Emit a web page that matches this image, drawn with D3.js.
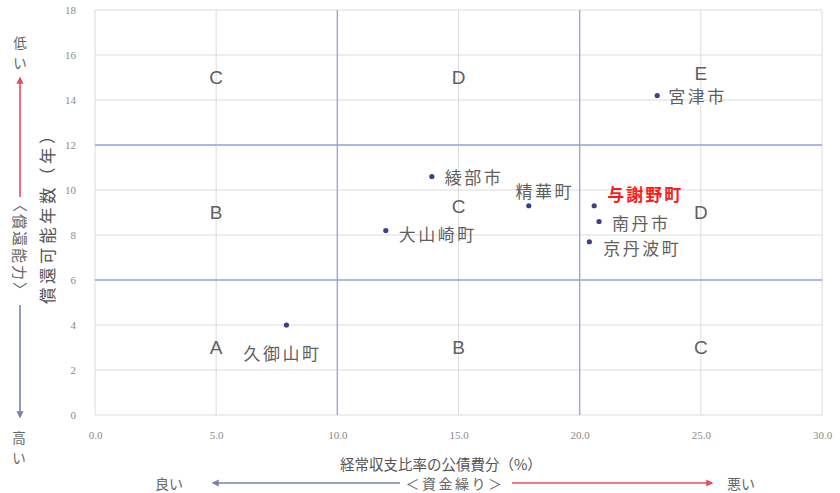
<!DOCTYPE html>
<html>
<head>
<meta charset="utf-8">
<script src="https://cdn.jsdelivr.net/npm/d3@7"></script>
<style>
  body { margin: 0; background: #fff; }
  svg { display: block; font-family: "Noto Sans CJK JP", "Noto Sans", sans-serif; }
</style>
</head>
<body>
<svg id="chart" width="840" height="493"></svg>
<script>
// Municipalities: debt-service share of ordinary balance (%) vs years to repay debt
const names  = ["宮津市", "綾部市", "精華町", "与謝野町", "南丹市", "京丹波町", "大山崎町", "久御山町"];
const xVals  = [23.2, 13.9, 17.9, 20.6, 20.8, 20.4, 12.0, 7.9];
const yVals  = [14.2, 10.6, 9.3, 9.3, 8.6, 7.7, 8.2, 4.0];
const highlight = ["与謝野町"];

// Quadrant grades
const zoneLabels = ["C", "D", "E", "B", "C", "D", "A", "B", "C"];
const zoneX      = [5, 15, 25, 5, 15, 25, 5, 15, 25];
const zoneY      = [15, 15, 15.2, 9, 9.25, 9, 3, 3, 3];

const xTicks = [0, 5, 10, 15, 20, 25, 30];
const yTicks = [0, 2, 4, 6, 8, 10, 12, 14, 16, 18];
const xDividers = [10, 20];
const yDividers = [6, 12];

const svg = d3.select("#chart");
const x = d3.scaleLinear().domain([0, 30]).range([95, 822]);
const y = d3.scaleLinear().domain([0, 18]).range([415, 10]);

// grid
svg.append("g").selectAll("line").data(xTicks).join("line")
  .attr("x1", d => x(d)).attr("x2", d => x(d))
  .attr("y1", y(0)).attr("y2", y(18))
  .attr("stroke", "#dcdcdc").attr("stroke-width", 1);
svg.append("g").selectAll("line").data(yTicks).join("line")
  .attr("x1", x(0)).attr("x2", x(30))
  .attr("y1", d => y(d)).attr("y2", d => y(d))
  .attr("stroke", "#dcdcdc").attr("stroke-width", 1);

// quadrant dividers
svg.append("g").selectAll("line").data(xDividers).join("line")
  .attr("x1", d => x(d)).attr("x2", d => x(d))
  .attr("y1", y(0)).attr("y2", y(18))
  .attr("stroke", "#9aa5d6").attr("stroke-width", 1.3);
svg.append("g").selectAll("line").data(yDividers).join("line")
  .attr("x1", x(0)).attr("x2", x(30))
  .attr("y1", d => y(d)).attr("y2", d => y(d))
  .attr("stroke", "#9aa5d6").attr("stroke-width", 1.3);

// axes (labels only)
const xAxis = svg.append("g").attr("transform", `translate(0,${y(0)})`)
  .call(d3.axisBottom(x).tickValues(xTicks).tickFormat(d3.format(".1f")).tickSize(0).tickPadding(16));
const yAxis = svg.append("g").attr("transform", `translate(${x(0)},0)`)
  .call(d3.axisLeft(y).tickValues(yTicks).tickSize(0).tickPadding(19));
[xAxis, yAxis].forEach(g => {
  g.select(".domain").remove();
  g.selectAll("text").attr("fill", "#8a8a8a").attr("font-size", 11)
    .attr("font-family", "Liberation Serif, serif");
});

// zone letters
svg.append("g").selectAll("text").data(zoneLabels).join("text")
  .attr("x", (d, i) => x(zoneX[i])).attr("y", (d, i) => y(zoneY[i]))
  .attr("text-anchor", "middle").attr("dominant-baseline", "central")
  .attr("fill", "#606060").attr("font-size", 19)
  .attr("font-family", "Liberation Sans, Arial, sans-serif")
  .text(d => d);

// points
svg.append("g").selectAll("circle").data(names).join("circle")
  .attr("cx", (d, i) => x(xVals[i])).attr("cy", (d, i) => y(yVals[i]))
  .attr("r", 2.6).attr("fill", "#3c3f8c");

// point labels (offsets in px relative to each point)
const labelDx = [11, 13, 16, 13, 13, 14, 13, -43];
const labelDy = [0, 0, -15, -12, 1, 6, 3, 27];
const labelAnchor = ["start", "start", "middle", "start", "start", "start", "start", "start"];
svg.append("g").selectAll("text").data(names).join("text")
  .attr("x", (d, i) => x(xVals[i]) + labelDx[i])
  .attr("y", (d, i) => y(yVals[i]) + labelDy[i])
  .attr("text-anchor", (d, i) => labelAnchor[i])
  .attr("dominant-baseline", "central")
  .attr("font-size", 17)
  .attr("letter-spacing", d => highlight.includes(d) ? 2 : 2.5)
  .attr("font-weight", d => highlight.includes(d) ? "bold" : "normal")
  .attr("fill", d => highlight.includes(d) ? "#ff1a1a" : "#5f5f5f")
  .text(d => d);

// axis titles
svg.append("text")
  .attr("transform", `translate(47,${214}) rotate(-90)`)
  .attr("text-anchor", "middle").attr("dominant-baseline", "central")
  .attr("fill", "#555").attr("font-size", 16.5).attr("letter-spacing", 3.5)
  .text("償還可能年数（年）");
svg.append("text")
  .attr("x", 340).attr("y", 463)
  .attr("text-anchor", "start").attr("dominant-baseline", "central")
  .attr("fill", "#555").attr("font-size", 14.5)
  .text("経常収支比率の公債費分（%）");

// arrow markers
const defs = svg.append("defs");
function marker(id, color) {
  defs.append("marker").attr("id", id)
    .attr("viewBox", "0 0 10 10").attr("refX", 8).attr("refY", 5)
    .attr("markerWidth", 4.5).attr("markerHeight", 4.5).attr("orient", "auto")
    .append("path").attr("d", "M0,0 L10,5 L0,10 z").attr("fill", color);
}
const redC = "#ec4a62", blueC = "#7484ab";
marker("arrRed", redC);
marker("arrBlue", blueC);

// left: repayment capacity
const side = svg.append("g").attr("font-size", 13.5).attr("fill", "#666");
side.append("text").attr("x", 20).attr("y", 42).attr("text-anchor", "middle").attr("dominant-baseline", "central").text("低");
side.append("text").attr("x", 20).attr("y", 62).attr("text-anchor", "middle").attr("dominant-baseline", "central").text("い");
side.append("line").attr("x1", 20).attr("x2", 20).attr("y1", 197).attr("y2", 78)
  .attr("stroke", redC).attr("stroke-width", 1.6).attr("marker-end", "url(#arrRed)");
side.append("text").attr("transform", "translate(20,248) rotate(90)")
  .attr("text-anchor", "middle").attr("dominant-baseline", "central")
  .attr("font-size", 15).attr("letter-spacing", 2)
  .text("〈償還能力〉");
side.append("line").attr("x1", 20).attr("x2", 20).attr("y1", 305).attr("y2", 417)
  .attr("stroke", blueC).attr("stroke-width", 1.6).attr("marker-end", "url(#arrBlue)");
side.append("text").attr("x", 19).attr("y", 437).attr("text-anchor", "middle").attr("dominant-baseline", "central").text("高");
side.append("text").attr("x", 19).attr("y", 457).attr("text-anchor", "middle").attr("dominant-baseline", "central").text("い");

// bottom: cash flow
const bot = svg.append("g").attr("font-size", 14).attr("fill", "#666");
bot.append("text").attr("x", 169).attr("y", 483).attr("text-anchor", "middle").attr("dominant-baseline", "central").text("良い");
bot.append("line").attr("x1", 400).attr("x2", 213).attr("y1", 483).attr("y2", 483)
  .attr("stroke", blueC).attr("stroke-width", 1.6).attr("marker-end", "url(#arrBlue)");
bot.append("text").attr("x", 455).attr("y", 483).attr("text-anchor", "middle").attr("dominant-baseline", "central")
  .attr("letter-spacing", 2.5).text("＜資金繰り＞");
bot.append("line").attr("x1", 512).attr("x2", 712).attr("y1", 483).attr("y2", 483)
  .attr("stroke", redC).attr("stroke-width", 1.6).attr("marker-end", "url(#arrRed)");
bot.append("text").attr("x", 741).attr("y", 483).attr("text-anchor", "middle").attr("dominant-baseline", "central").text("悪い");
</script>
</body>
</html>
